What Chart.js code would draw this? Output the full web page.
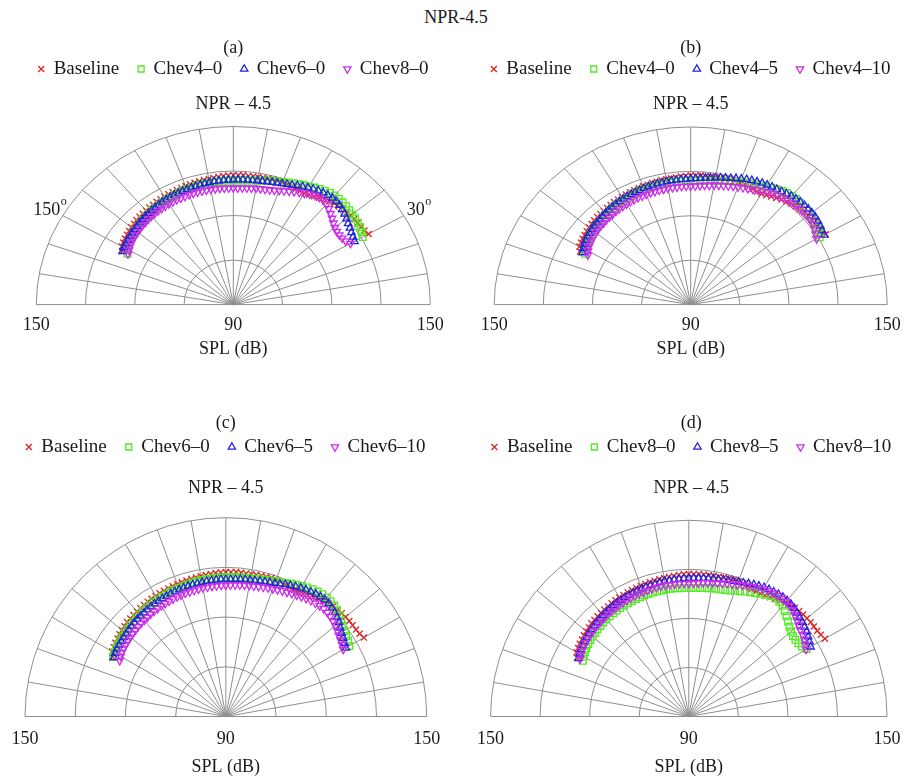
<!DOCTYPE html>
<html lang="en">
<head>
<meta charset="utf-8">
<title>NPR-4.5 far-field directivity</title>
<script src="https://cdn.jsdelivr.net/npm/chart.js@4.4.1/dist/chart.umd.min.js"></script>
<style>
  html, body { margin: 0; padding: 0; background: #ffffff; }
  body { position: relative; width: 912px; height: 780px; overflow: hidden; }
  #fig-title {
    position: absolute; left: 0; top: 6px; width: 912px; text-align: center;
    font: 18px/22px "Liberation Serif", "Times New Roman", serif; color: #1a1a1a;
  }
  .panel { position: absolute; width: 456px; }
</style>
</head>
<body>
<div id="fig-title">NPR-4.5</div>
<div class="panel" style="left:0;top:30px;height:330px"><canvas id="panel-a"></canvas></div>
<div class="panel" style="left:456px;top:30px;height:330px"><canvas id="panel-b"></canvas></div>
<div class="panel" style="left:0;top:400px;height:378px"><canvas id="panel-c"></canvas></div>
<div class="panel" style="left:456px;top:400px;height:378px"><canvas id="panel-d"></canvas></div>
<script>
// Polar angle of each microphone, degrees from the jet axis
const ANGLES = [30, 32, 34, 36, 38, 40, 42, 44, 46, 48, 50, 52, 54, 56, 58, 60,
  62, 64, 66, 68, 70, 72, 74, 76, 78, 80, 82, 84, 86, 88, 90,
  92, 94, 96, 98, 100, 102, 104, 106, 108, 110, 112, 114, 116, 118, 120,
  122, 124, 126, 128, 130, 132, 134, 136, 138, 140, 142, 144, 146, 148, 150, 152];

// Overall SPL (dB) at each angle
const BASELINE = [137.6, 137.1, 136.9, 136.8, 136.8, 136.7, 136.6, 136.4, 136.2, 135.9, 135.5, 135.0, 134.5, 134.0, 133.6, 133.3,
  133.3, 133.4, 133.6, 133.8, 133.9, 134.0, 133.9, 133.8, 133.7, 133.6, 133.6, 133.6, 133.7, 133.6, 133.6,
  133.5, 133.4, 133.2, 133.1, 133.0, 132.9, 132.8, 132.7, 132.6, 132.5, 132.4, 132.3, 132.2, 132.1, 132.0,
  131.9, 131.8, 131.6, 131.5, 131.3, 131.2, 131.1, 131.0, 130.7, 130.5, 130.3, 130.0, 129.8, 129.5, 129.2, 128.3];

const CHEV4_0 = [135.5, 136.1, 136.6, 136.9, 137.1, 137.3, 137.5, 137.7, 137.9, 138.0, 138.0, 137.8, 137.4, 137.0, 136.5, 136.0,
  135.6, 135.2, 134.8, 134.4, 134.0, 133.6, 133.3, 133.0, 132.7, 132.4, 132.2, 132.0, 131.9, 131.8, 131.8,
  131.8, 131.8, 131.7, 131.7, 131.7, 131.6, 131.6, 131.5, 131.5, 131.4, 131.3, 131.2, 131.1, 130.9, 130.8,
  130.7, 130.5, 130.4, 130.2, 130.0, 129.8, 129.6, 129.4, 129.2, 129.0, 128.7, 128.4, 128.0, 127.6, 127.0, 126.5];

const CHEV4_5 = [137.1, 137.3, 137.7, 138.0, 138.2, 138.3, 138.3, 138.3, 138.2, 138.0, 137.8, 137.5, 137.2, 137.0, 136.9, 136.7,
  136.5, 136.2, 135.9, 135.6, 135.2, 134.8, 134.4, 134.1, 133.8, 133.5, 133.2, 133.0, 132.8, 132.6, 132.5,
  132.4, 132.4, 132.3, 132.3, 132.2, 132.1, 132.1, 132.0, 131.9, 131.8, 131.7, 131.6, 131.5, 131.4, 131.2,
  131.1, 130.9, 130.8, 130.6, 130.4, 130.2, 130.0, 129.8, 129.7, 129.5, 129.2, 129.0, 128.7, 128.4, 127.9, 127.4];

const CHEV4_10 = [134.4, 135.0, 135.6, 136.1, 136.4, 136.5, 136.5, 136.4, 136.3, 136.2, 136.0, 135.8, 135.5, 135.1, 134.7, 134.2,
  133.8, 133.3, 132.9, 132.6, 132.3, 132.0, 131.7, 131.4, 131.2, 131.0, 130.7, 130.5, 130.3, 130.1, 130.0,
  130.0, 130.0, 129.9, 129.9, 129.9, 129.8, 129.8, 129.7, 129.7, 129.6, 129.5, 129.5, 129.4, 129.3, 129.2,
  129.1, 129.0, 128.9, 128.7, 128.6, 128.5, 128.3, 128.2, 128.0, 127.8, 127.6, 127.3, 127.0, 126.7, 126.2, 125.6];

const CHEV6_0 = [132.6, 133.0, 133.4, 133.9, 134.4, 135.0, 135.6, 136.1, 136.6, 136.8, 136.9, 136.8, 136.6, 136.3, 135.9, 135.5,
  135.0, 134.6, 134.1, 133.7, 133.4, 133.1, 132.9, 132.7, 132.5, 132.4, 132.3, 132.2, 132.2, 132.1, 132.1,
  132.0, 132.0, 131.9, 131.9, 131.8, 131.7, 131.6, 131.5, 131.4, 131.3, 131.2, 131.1, 131.0, 130.9, 130.8,
  130.7, 130.6, 130.4, 130.3, 130.1, 130.0, 129.8, 129.7, 129.5, 129.3, 129.2, 129.0, 128.8, 128.7, 128.5, 128.2];

const CHEV6_5 = [131.4, 131.8, 132.3, 132.8, 133.4, 134.1, 134.7, 135.2, 135.6, 135.9, 136.0, 135.9, 135.7, 135.4, 135.1, 134.8,
  134.4, 134.0, 133.6, 133.2, 132.8, 132.5, 132.3, 132.1, 131.9, 131.8, 131.7, 131.6, 131.5, 131.4, 131.4,
  131.4, 131.3, 131.2, 131.2, 131.1, 131.0, 131.0, 130.9, 130.8, 130.7, 130.6, 130.5, 130.4, 130.3, 130.2,
  130.1, 130.0, 129.9, 129.7, 129.6, 129.5, 129.4, 129.2, 129.1, 128.9, 128.8, 128.6, 128.5, 128.4, 128.2, 127.9];

const CHEV6_10 = [130.5, 130.9, 131.3, 131.7, 132.2, 132.7, 133.1, 133.4, 133.6, 133.7, 133.6, 133.4, 133.2, 132.9, 132.6, 132.3,
  132.0, 131.7, 131.5, 131.2, 131.0, 130.8, 130.6, 130.4, 130.2, 130.1, 130.0, 129.9, 129.8, 129.7, 129.6,
  129.6, 129.5, 129.5, 129.4, 129.4, 129.3, 129.2, 129.1, 129.1, 129.0, 128.9, 128.8, 128.7, 128.6, 128.5,
  128.4, 128.3, 128.2, 128.0, 127.9, 127.8, 127.7, 127.5, 127.4, 127.2, 127.1, 126.9, 126.8, 126.6, 126.3, 125.9];

const CHEV8_0 = [131.2, 130.4, 130.0, 129.9, 130.0, 130.4, 131.0, 131.8, 132.6, 133.4, 134.2, 134.5, 134.6, 134.4, 133.9, 133.3,
  132.8, 132.3, 131.8, 131.3, 130.9, 130.5, 130.2, 130.0, 129.9, 129.8, 129.6, 129.5, 129.4, 129.3, 129.3,
  129.3, 129.3, 129.4, 129.4, 129.4, 129.4, 129.4, 129.4, 129.4, 129.4, 129.3, 129.3, 129.3, 129.2, 129.2,
  129.1, 129.0, 129.0, 128.9, 128.8, 128.7, 128.5, 128.4, 128.2, 128.0, 127.9, 127.6, 127.4, 127.1, 126.7, 126.3];

const CHEV8_5 = [132.6, 133.1, 133.6, 134.1, 134.5, 134.9, 135.2, 135.6, 136.0, 136.2, 136.3, 136.3, 136.2, 136.0, 135.8, 135.6,
  135.2, 134.9, 134.5, 134.1, 133.8, 133.5, 133.3, 133.1, 132.9, 132.8, 132.7, 132.5, 132.4, 132.3, 132.2,
  132.2, 132.1, 132.1, 132.0, 132.0, 131.9, 131.8, 131.8, 131.7, 131.6, 131.5, 131.4, 131.3, 131.2, 131.1,
  131.0, 130.9, 130.7, 130.6, 130.4, 130.2, 130.1, 129.9, 129.7, 129.5, 129.3, 129.1, 128.8, 128.6, 128.2, 127.8];

const CHEV8_10 = [131.0, 131.6, 132.2, 132.6, 132.9, 133.4, 134.0, 134.6, 135.2, 135.6, 135.8, 135.8, 135.7, 135.5, 135.3, 135.0,
  134.6, 134.2, 133.7, 133.3, 132.9, 132.6, 132.3, 132.0, 131.7, 131.5, 131.3, 131.1, 130.9, 130.8, 130.7,
  130.7, 130.7, 130.7, 130.7, 130.7, 130.7, 130.6, 130.6, 130.5, 130.5, 130.4, 130.3, 130.3, 130.2, 130.1,
  130.0, 129.9, 129.8, 129.7, 129.6, 129.4, 129.3, 129.2, 129.0, 128.8, 128.7, 128.5, 128.3, 128.1, 127.7, 127.3];

// Radial axis: SPL at the origin and at the rim, grid rings and spokes
const SPL_MIN = 90;
const SPL_MAX = 150;
const RING_SPL = [105, 120, 135, 150];
const SPOKE_DEG = [0, 10, 20, 30, 40, 50, 60, 70, 80, 90, 100, 110, 120, 130, 140, 150, 160, 170, 180];
// Labels under the diameter: left rim, origin, right rim
const AXIS_TICK_SPL = [150, 90, 150];
const AXIS_TICK_SIDE = [-1, 0, 1];

const SERIF = '"Liberation Serif", "Times New Roman", serif';
const TEXT = '#1a1a1a';
const FONT = { family: SERIF, size: 18, weight: 'normal', lineHeight: 1.2 };
const LEGEND_FONT = { family: SERIF, size: 19, weight: 'normal', lineHeight: 1.2 };
const R_SPAN = SPL_MAX - SPL_MIN;
const PANEL_W = 456;

// Marker look for the four series of every panel (baseline, then three nozzles)
const SLOT_STYLE = [
  { color: '#de2323', pointStyle: 'crossRot', radius: 4.3, rotation: 0 },
  { color: '#52ea22', pointStyle: 'rect', radius: 4.7, rotation: 0 },
  { color: '#2323de', pointStyle: 'triangle', radius: 4.3, rotation: 0 },
  { color: '#cc2aee', pointStyle: 'triangle', radius: 4.3, rotation: 180 }
];

const TOP_ROW = { titlePad: { top: 9, bottom: -16.5 }, subPad: 4.7, tickPad: 9.5, axisTitlePad: -6.8 };
const BOTTOM_ROW = { titlePad: { top: 14, bottom: -13.5 }, subPad: 10.7, tickPad: 11.5, axisTitlePad: -4.7 };

// cx / rx: polar origin and rim radius across, in canvas pixels; aspect: rim height / rim width
const PANELS = [
  { canvas: 'panel-a', tag: '(a)', row: TOP_ROW, cx: 233.3, rx: 197, aspect: 0.904, pad: { left: 10.6, right: 0 },
    names: ['Baseline', 'Chev4\u20130', 'Chev6\u20130', 'Chev8\u20130'],
    values: [BASELINE, CHEV4_0, CHEV6_0, CHEV8_0],
    marks: [{ text: '150', x: -60.9, y: 31.7 }, { text: '30', x: 52.8, y: 31.7 }] },
  { canvas: 'panel-b', tag: '(b)', row: TOP_ROW, cx: 234.7, rx: 196.5, aspect: 0.904, pad: { left: 13.4, right: 0 },
    names: ['Baseline', 'Chev4\u20130', 'Chev4\u20135', 'Chev4\u201310'],
    values: [BASELINE, CHEV4_0, CHEV4_5, CHEV4_10], marks: [] },
  { canvas: 'panel-c', tag: '(c)', row: BOTTOM_ROW, cx: 225.7, rx: 201, aspect: 0.99, pad: { left: 0, right: 4.6 },
    names: ['Baseline', 'Chev6\u20130', 'Chev6\u20135', 'Chev6\u201310'],
    values: [BASELINE, CHEV6_0, CHEV6_5, CHEV6_10], marks: [] },
  { canvas: 'panel-d', tag: '(d)', row: BOTTOM_ROW, cx: 235.3, rx: 200.5, aspect: 0.99, pad: { left: 14.6, right: 0 },
    names: ['Baseline', 'Chev8\u20130', 'Chev8\u20135', 'Chev8\u201310'],
    values: [BASELINE, CHEV8_0, CHEV8_5, CHEV8_10], marks: [] }
];

// (angle, SPL) -> cartesian position in "dB above the origin" units
function toPoints(values) {
  return ANGLES.map((deg, i) => {
    const r = values[i] - SPL_MIN;
    const t = deg * Math.PI / 180;
    return { x: r * Math.cos(t), y: r * Math.sin(t) };
  });
}

// Half-polar grid drawn from the x/y scales; the y range is stretched after
// layout so the rim keeps the requested height/width ratio.
const polarGrid = {
  id: 'polarGrid',
  afterLayout(chart, args, opts) {
    const xs = chart.scales.x, ys = chart.scales.y;
    const pxX = (xs.right - xs.left) / (xs.max - xs.min);
    const pxY = pxX * opts.aspect;
    ys.max = ys.min + (ys.bottom - ys.top) / pxY;
    ys.configure();
  },
  beforeDatasetsDraw(chart, args, opts) {
    const { ctx } = chart;
    const xs = chart.scales.x, ys = chart.scales.y;
    const cx = xs.getPixelForValue(0), cy = ys.getPixelForValue(0);
    ctx.save();
    ctx.strokeStyle = opts.color;
    ctx.lineWidth = opts.lineWidth;
    RING_SPL.forEach((spl) => {
      const r = spl - SPL_MIN;
      const rx = xs.getPixelForValue(r) - cx;
      const ry = cy - ys.getPixelForValue(r);
      ctx.beginPath();
      ctx.ellipse(cx, cy, rx, ry, 0, Math.PI, 2 * Math.PI);
      ctx.stroke();
    });
    SPOKE_DEG.forEach((deg) => {
      const t = deg * Math.PI / 180;
      ctx.beginPath();
      ctx.moveTo(cx, cy);
      ctx.lineTo(xs.getPixelForValue(R_SPAN * Math.cos(t)), ys.getPixelForValue(R_SPAN * Math.sin(t)));
      ctx.stroke();
    });
    // angle labels with a raised "o" for degrees
    ctx.fillStyle = TEXT;
    ctx.textBaseline = 'middle';
    ctx.textAlign = 'left';
    (opts.marks || []).forEach((m) => {
      const px = xs.getPixelForValue(m.x), py = ys.getPixelForValue(m.y);
      ctx.font = '18px ' + SERIF;
      ctx.fillText(m.text, px, py);
      const w = ctx.measureText(m.text).width;
      ctx.font = '12px ' + SERIF;
      ctx.fillText('o', px + w + 0.5, py - 9);
    });
    ctx.restore();
  }
};

PANELS.forEach((p) => {
  const pxPerUnit = p.rx / R_SPAN;
  const xMin = -(p.cx - p.pad.left) / pxPerUnit;
  const xMax = (PANEL_W - p.pad.right - p.cx) / pxPerUnit;

  const datasets = p.names.map((name, k) => {
    const s = SLOT_STYLE[k];
    return {
      label: name,
      data: toPoints(p.values[k]),
      showLine: false,
      pointStyle: s.pointStyle,
      pointRotation: s.rotation,
      pointRadius: s.radius,
      pointHoverRadius: s.radius,
      pointBorderColor: s.color,
      pointBackgroundColor: 'rgba(0,0,0,0)',
      pointBorderWidth: 1.3,
      borderColor: s.color,
      backgroundColor: 'rgba(0,0,0,0)',
      borderWidth: 1.3,
      order: 3 - k,
      clip: false
    };
  });

  new Chart(document.getElementById(p.canvas), {
    type: 'scatter',
    data: { datasets },
    options: {
      responsive: true,
      maintainAspectRatio: false,
      animation: false,
      devicePixelRatio: 1,
      events: [],
      layout: { autoPadding: false, padding: { left: p.pad.left, right: p.pad.right, top: 0, bottom: 0 } },
      scales: {
        x: {
          type: 'linear',
          min: xMin,
          max: xMax,
          afterBuildTicks: (scale) => {
            scale.ticks = AXIS_TICK_SPL.map((v, i) => ({ value: AXIS_TICK_SIDE[i] * (v - SPL_MIN) }));
          },
          ticks: {
            autoSkip: false, maxRotation: 0, minRotation: 0,
            padding: p.row.tickPad, color: TEXT, font: FONT,
            callback: (value, index) => String(AXIS_TICK_SPL[index])
          },
          grid: { display: false, drawTicks: false },
          border: { display: false },
          title: {
            display: true, text: 'SPL (dB)', color: TEXT, font: FONT,
            padding: { top: p.row.axisTitlePad, bottom: 0 }
          }
        },
        y: { type: 'linear', min: 0, max: R_SPAN, display: false }
      },
      plugins: {
        title: {
          display: true, text: p.tag, color: TEXT,
          font: { family: SERIF, size: 18, weight: 'normal', lineHeight: 1 },
          padding: p.row.titlePad
        },
        legend: {
          display: true, position: 'top',
          labels: {
            usePointStyle: true, boxWidth: 6, boxHeight: 6, padding: 19,
            color: TEXT, font: LEGEND_FONT,
            sort: (a, b) => a.datasetIndex - b.datasetIndex
          }
        },
        subtitle: {
          display: true, text: 'NPR \u2013 4.5', color: TEXT, font: FONT, weight: 500,
          padding: { top: p.row.subPad, bottom: 0 }
        },
        tooltip: { enabled: false },
        polarGrid: { aspect: p.aspect, color: '#8e8e8e', lineWidth: 1, marks: p.marks }
      }
    },
    plugins: [polarGrid]
  });
});
</script>
</body>
</html>
